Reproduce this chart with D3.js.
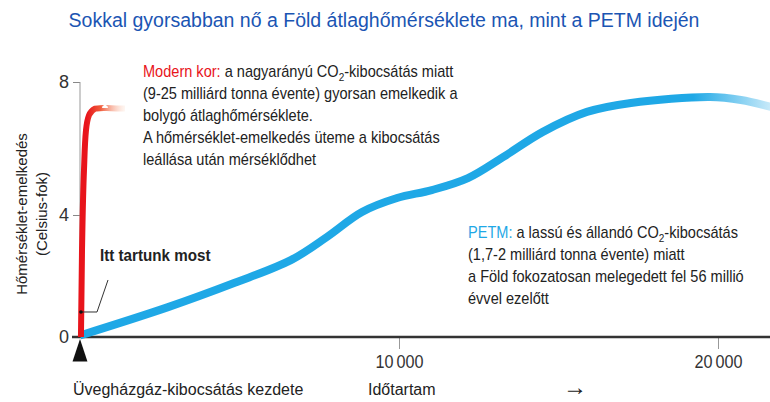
<!DOCTYPE html>
<html>
<head>
<meta charset="utf-8">
<script src="https://cdn.jsdelivr.net/npm/d3@7"></script>
<style>
  body { margin: 0; background: #fff; }
  svg text { font-family: "Liberation Sans", Arial, sans-serif; fill: #222; }
  .title { fill: #1b55b3; font-size: 19.5px; }
  .note { font-size: 16px; }
  .axis text { font-size: 18px; fill: #333; }
</style>
</head>
<body>
<div id="chart"></div>
<script>
// values (years after start of emissions, warming in °C)
var petmYears = [0, 2760, 4830, 6610, 7740, 8840, 9940, 11030, 12160, 13260, 14510, 15890, 17270, 19750, 20720, 21660];
var petmTemp  = [0.05, 0.98, 1.77, 2.52, 3.28, 4.09, 4.51, 4.75, 5.11, 5.74, 6.50, 7.10, 7.37, 7.55, 7.46, 7.25];

var modernYears = [30, 63, 125, 188, 282, 470, 784, 1410];
var modernTemp  = [0, 2.85, 5.35, 6.55, 7.0, 7.2, 7.22, 7.2];

var nowTemp = 0.82;

var yTicks = [0, 4, 8];
var xTicks = [10000, 20000];
var xTickLabels = ["10\u2009000", "20\u2009000"];

var width = 770, height = 402;
var narrow = 0.91;   // the original uses a condensed face

var x = d3.scaleLinear().domain([0, 10000]).range([80, 399]);
// the original drawing is not quite even between 0-4 and 4-8
var y = d3.scaleLinear().domain([0, 4, 8]).range([337, 215, 82]);

var svg = d3.select("#chart").append("svg")
    .attr("width", width)
    .attr("height", height);

var defs = svg.append("defs");

var blueGrad = defs.append("linearGradient")
    .attr("id", "blueFade")
    .attr("gradientUnits", "userSpaceOnUse")
    .attr("x1", 0).attr("x2", width).attr("y1", 0).attr("y2", 0);
blueGrad.append("stop").attr("offset", "0.90").attr("stop-color", "#1fa8e6");
blueGrad.append("stop").attr("offset", "1").attr("stop-color", "#1fa8e6").attr("stop-opacity", 0.25);

var redGrad = defs.append("linearGradient")
    .attr("id", "redFade")
    .attr("gradientUnits", "userSpaceOnUse")
    .attr("x1", x(0)).attr("x2", x(1410)).attr("y1", 0).attr("y2", 0);
redGrad.append("stop").attr("offset", "0.15").attr("stop-color", "#e8141b");
redGrad.append("stop").attr("offset", "0.45").attr("stop-color", "#f05a3a");
redGrad.append("stop").attr("offset", "1").attr("stop-color", "#fbd3bd").attr("stop-opacity", 0.2);

// text placed in a squeezed group
function narrowText(x0, y0, k) {
  return svg.append("g")
      .attr("transform", "translate(" + x0 + "," + y0 + ") scale(" + (k || narrow) + ",1)")
    .append("text").attr("class", "note");
}

// title
svg.append("text")
    .attr("class", "title")
    .attr("x", 384)
    .attr("y", 27)
    .attr("text-anchor", "middle")
    .text("Sokkal gyorsabban nő a Föld átlaghőmérséklete ma, mint a PETM idején");

// y axis
var yAxis = svg.append("g")
    .attr("class", "axis")
    .attr("transform", "translate(" + x(0) + ",0)")
    .call(d3.axisLeft(y).tickValues(yTicks).tickSize(7).tickPadding(4).tickFormat(d3.format("d")));
yAxis.select(".domain").remove();
yAxis.selectAll(".tick line").attr("stroke", "#888");
yAxis.append("line")
    .attr("x1", 0).attr("x2", 0)
    .attr("y1", y(8)).attr("y2", y(0))
    .attr("stroke", "#999");

// x axis ticks
var xAxis = svg.append("g")
    .attr("class", "axis")
    .attr("transform", "translate(0," + y(0) + ")")
    .call(d3.axisBottom(x).tickValues(xTicks).tickSize(12).tickPadding(4)
        .tickFormat(function(d, i) { return xTickLabels[i]; }));
xAxis.select(".domain").remove();
xAxis.selectAll(".tick line").attr("stroke", "#999");
xAxis.selectAll(".tick text").attr("dy", "0.85em").attr("transform", "scale(0.9,1)");

// baseline
svg.append("line")
    .attr("x1", x(0) - 8).attr("x2", width)
    .attr("y1", y(0)).attr("y2", y(0))
    .attr("stroke", "#333")
    .attr("stroke-width", 2.5);

// start marker
svg.append("path")
    .attr("d", d3.symbol().type(d3.symbolTriangle).size(150))
    .attr("transform", "translate(" + x(0) + "," + (y(0) + 17) + ") scale(0.8,1.4)")
    .attr("fill", "#111");

// y axis title
var yTitle = svg.append("text")
    .attr("class", "note")
    .attr("transform", "translate(27,214) rotate(-90)")
    .attr("text-anchor", "middle")
    .style("font-size", "15px");
yTitle.append("tspan").attr("x", 0).attr("dy", 0).text("Hőmérséklet-emelkedés");
yTitle.append("tspan").attr("x", 0).attr("dy", 20).text("(Celsius-fok)");

var line = d3.line()
    .x(function(d) { return x(d[0]); })
    .y(function(d) { return y(d[1]); })
    .curve(d3.curveCatmullRom.alpha(0.5));

// PETM curve
svg.append("path")
    .datum(d3.zip(petmYears, petmTemp))
    .attr("d", line)
    .attr("fill", "none")
    .attr("stroke", "url(#blueFade)")
    .attr("stroke-width", 8)
    .attr("stroke-linecap", "butt");

// modern curve
svg.append("path")
    .datum(d3.zip(modernYears, modernTemp))
    .attr("d", line.curve(d3.curveMonotoneY))
    .attr("fill", "none")
    .attr("stroke", "url(#redFade)")
    .attr("stroke-width", 6)
    .attr("stroke-linecap", "butt");

// "we are here" marker
var nowY = y(nowTemp);
svg.append("path")
    .attr("d", d3.line()([[x(30), nowY], [97, nowY], [108, nowY - 32]]))
    .attr("fill", "none")
    .attr("stroke", "#333")
    .attr("stroke-width", 1);
svg.append("circle")
    .attr("cx", x(30)).attr("cy", nowY).attr("r", 1.8)
    .attr("fill", "#111");
narrowText(100, 261, 0.95)
    .style("font-weight", "bold")
    .text("Itt tartunk most");

// annotation helper: first line has coloured lead + CO2 subscript
function addNote(x0, y0, lead, leadColor, first, rest) {
  var t = narrowText(x0, y0);
  t.append("tspan").style("fill", leadColor).text(lead);
  t.append("tspan").text(" " + first[0] + "CO");
  t.append("tspan").attr("dy", 4).style("font-size", "11px").text("2");
  t.append("tspan").attr("dy", -4).text(first[1]);
  rest.forEach(function(s, i) {
    narrowText(x0, y0 + 22 * (i + 1)).text(s);
  });
}

addNote(143, 77, "Modern kor:", "#e8141b",
    ["a nagyarányú ", "-kibocsátás miatt"],
    ["(9-25 milliárd tonna évente) gyorsan emelkedik a",
     "bolygó átlaghőmérséklete.",
     "A hőmérséklet-emelkedés üteme a kibocsátás",
     "leállása után mérséklődhet"]);

addNote(468, 238, "PETM:", "#1fa8e6",
    ["a lassú és állandó ", "-kibocsátás"],
    ["(1,7-2 milliárd tonna évente) miatt",
     "a Föld fokozatosan melegedett fel 56 millió",
     "évvel ezelőtt"]);

// bottom labels
svg.append("text").attr("class", "note").attr("x", 73).attr("y", 395)
    .text("Üvegházgáz-kibocsátás kezdete");
svg.append("text").attr("class", "note").attr("x", 368).attr("y", 395)
    .text("Időtartam");
svg.append("text").attr("class", "note").attr("x", 563).attr("y", 395)
    .style("font-size", "24px")
    .text("\u2192");
</script>
</body>
</html>
